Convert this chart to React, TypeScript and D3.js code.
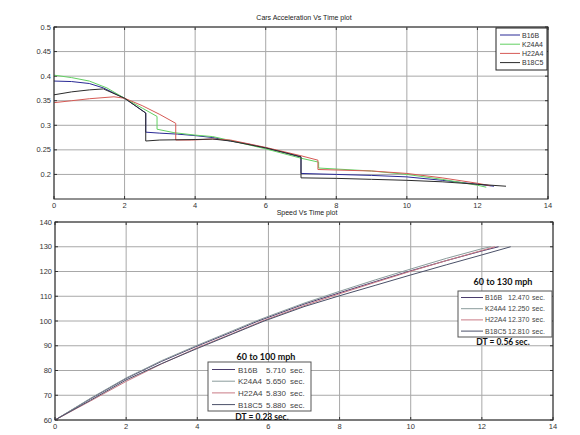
import React from "react";
import * as d3 from "d3";

type Pt = [number, number];

const carNames = ["B16B", "K24A4", "H22A4", "B18C5"];

// acceleration (g) vs time (s)
const accB16B: Pt[] = [
  [0, 0.39], [0.5, 0.389], [1, 0.385], [1.4, 0.376], [2, 0.355], [2.3, 0.34], [2.6, 0.325],
  [2.6, 0.286], [3, 0.284], [3.5, 0.282], [4, 0.279], [4.5, 0.275], [5, 0.268], [5.5, 0.262],
  [6, 0.254], [6.5, 0.245], [7, 0.235], [7, 0.202], [8, 0.2], [9, 0.198], [10, 0.195],
  [11, 0.188], [12, 0.18], [12.47, 0.176],
];
const accK24A4: Pt[] = [
  [0, 0.402], [0.5, 0.397], [1, 0.39], [1.5, 0.376], [2, 0.355], [2.5, 0.335], [2.92, 0.318],
  [2.92, 0.292], [3.4, 0.285], [4, 0.28], [4.5, 0.277], [5, 0.269], [6, 0.252], [7, 0.233],
  [7.5, 0.225], [7.5, 0.213], [8, 0.211], [9, 0.207], [10, 0.2], [11, 0.19], [12, 0.178],
  [12.25, 0.174],
];
const accH22A4: Pt[] = [
  [0, 0.346], [0.5, 0.35], [1, 0.354], [1.7, 0.358], [2, 0.355], [2.5, 0.34], [3, 0.322],
  [3.45, 0.304], [3.45, 0.27], [3.9, 0.27], [4.5, 0.272], [5, 0.27], [6, 0.255], [7, 0.238],
  [7.48, 0.229], [7.48, 0.21], [8, 0.209], [9, 0.207], [10, 0.202], [11, 0.193], [12, 0.182],
  [12.37, 0.177],
];
const accB18C5: Pt[] = [
  [0, 0.362], [0.5, 0.368], [1, 0.372], [1.4, 0.374], [2, 0.355], [2.3, 0.34], [2.6, 0.325],
  [2.6, 0.268], [3, 0.27], [4, 0.271], [4.5, 0.272], [5, 0.268], [6, 0.254], [7, 0.236],
  [7, 0.193], [8, 0.192], [9, 0.19], [10, 0.188], [11, 0.185], [12, 0.18], [12.81, 0.176],
];

// speed (mph) vs time (s)
const spdB16B: Pt[] = [
  [0, 60], [1, 68.6], [2, 76.8], [3, 83.7], [4, 89.9], [5, 95.7], [5.71, 100], [6, 101.5],
  [7, 106.8], [8, 111.4], [9, 115.9], [10, 120.3], [11, 124.4], [12, 128.3], [12.47, 130],
];
const spdK24A4: Pt[] = [
  [0, 60], [1, 68.8], [2, 77], [3, 84], [4, 90.2], [5, 96.1], [5.65, 100], [6, 101.9],
  [7, 107.2], [8, 112], [9, 116.6], [10, 121], [11, 125.3], [12, 129.2], [12.25, 130],
];
const spdH22A4: Pt[] = [
  [0, 60], [1, 67.7], [2, 75.6], [3, 82.7], [4, 89.2], [5, 95], [5.83, 100], [6, 100.9],
  [7, 106.2], [8, 111], [9, 115.6], [10, 120.1], [11, 124.4], [12, 128.5], [12.37, 130],
];
const spdB18C5: Pt[] = [
  [0, 60], [1, 68], [2, 76.2], [3, 82.8], [4, 88.9], [5, 94.8], [5.88, 100], [6, 100.6],
  [7, 105.8], [8, 110.2], [9, 114.4], [10, 118.6], [11, 122.7], [12, 126.7], [12.81, 130],
];

const t100 = ["5.710", "5.650", "5.830", "5.880"];
const t130 = ["12.470", "12.250", "12.370", "12.810"];

const accColors = ["#2a2a96", "#62d062", "#d65a55", "#2b2b2b"];
const spdColors = ["#4a3c6c", "#8a9c9c", "#c97a86", "#4a5068"];

const xTicks = [0, 2, 4, 6, 8, 10, 12, 14];
const accTicks = [0.2, 0.25, 0.3, 0.35, 0.4, 0.45, 0.5];
const spdTicks = [60, 70, 80, 90, 100, 110, 120, 130, 140];

const tickFont = "'Liberation Sans', Arial, sans-serif";
const boldFont = "Lato, 'Open Sans', sans-serif";

type PanelProps = {
  x0: number; x1: number; y0: number; y1: number;
  yDomain: [number, number];
  yTicks: number[];
  yFmt: (v: number) => string;
  series: Pt[][];
  colors: string[];
  title: string;
  titleY: number;
};

const Panel: React.FC<PanelProps> = ({ x0, x1, y0, y1, yDomain, yTicks, yFmt, series, colors, title, titleY }) => {
  const x = d3.scaleLinear().domain([0, 14]).range([x0, x1]);
  const y = d3.scaleLinear().domain(yDomain).range([y1, y0]);
  const line = d3.line<Pt>().x((d) => x(d[0])).y((d) => y(d[1]));
  return (
    <g>
      <rect x={x0} y={y0} width={x1 - x0} height={y1 - y0} fill="#fff" />
      {xTicks.map((t) => (
        <g key={"x" + t}>
          <line x1={x(t)} x2={x(t)} y1={y0} y2={y1} stroke="#a8a8a8" strokeWidth={1} />
          <line x1={x(t)} x2={x(t)} y1={y1} y2={y1 - 3} stroke="#333" />
          <line x1={x(t)} x2={x(t)} y1={y0} y2={y0 + 3} stroke="#333" />
          <text x={x(t)} y={y1 + 9} fontSize={7.5} fontFamily={tickFont} fill="#333" textAnchor="middle">{t}</text>
        </g>
      ))}
      {yTicks.map((v) => (
        <g key={"y" + v}>
          <line x1={x0} x2={x1} y1={y(v)} y2={y(v)} stroke="#a8a8a8" strokeWidth={1} />
          <line x1={x0} x2={x0 + 3} y1={y(v)} y2={y(v)} stroke="#333" />
          <line x1={x1} x2={x1 - 3} y1={y(v)} y2={y(v)} stroke="#333" />
          <text x={x0 - 3} y={y(v) + 2.5} fontSize={7.5} fontFamily={tickFont} fill="#333" textAnchor="end">{yFmt(v)}</text>
        </g>
      ))}
      {series.map((s, i) => (
        <path key={"s" + i} d={line(s) ?? ""} fill="none" stroke={colors[i]} strokeWidth={1} />
      ))}
      <rect x={x0} y={y0} width={x1 - x0} height={y1 - y0} fill="none" stroke="#222" strokeWidth={1} />
      <text x={(x0 + x1) / 2 + 3} y={titleY} fontSize={7} fontFamily={tickFont} fill="#222" textAnchor="middle">{title}</text>
    </g>
  );
};

export default function App() {
  const W = 580;
  const H = 435;
  return (
    <svg width={W} height={H} style={{ position: "absolute", left: 0, top: 0, background: "#fff" }}>
      <Panel
        x0={54} x1={548} y0={27} y1={199}
        yDomain={[0.15, 0.5]} yTicks={accTicks} yFmt={(v) => String(+v.toFixed(2))}
        series={[accB16B, accK24A4, accH22A4, accB18C5]} colors={accColors}
        title="Cars Acceleration Vs Time plot" titleY={20}
      />
      <Panel
        x0={55} x1={553} y0={222} y1={420}
        yDomain={[60, 140]} yTicks={spdTicks} yFmt={(v) => String(v)}
        series={[spdB16B, spdK24A4, spdH22A4, spdB18C5]} colors={spdColors}
        title="Speed Vs Time plot" titleY={215}
      />

      {/* top legend */}
      <rect x={496} y={28} width={51} height={42} fill="#fff" stroke="#222" />
      {carNames.map((n, i) => (
        <g key={"tl" + n}>
          <line x1={500} x2={520} y1={35 + i * 9.2} y2={35 + i * 9.2} stroke={accColors[i]} />
          <text x={522} y={37.5 + i * 9.2} fontSize={7} fontFamily={tickFont} fill="#333">{n}</text>
        </g>
      ))}

      {/* 60 to 100 legend */}
      <text x={266} y={360} fontSize={9} fontWeight="bold" fontFamily={boldFont} fill="#111" textAnchor="middle">60 to 100 mph</text>
      <rect x={208} y={362} width={103} height={49} fill="#fff" stroke="#555" />
      {carNames.map((n, i) => (
        <g key={"bl" + n}>
          <line x1={212} x2={235} y1={369.5 + i * 11.7} y2={369.5 + i * 11.7} stroke={spdColors[i]} />
          <text x={238} y={372.5 + i * 11.7} fontSize={8} fontFamily={tickFont} fill="#444">{n}</text>
          <text x={266} y={372.5 + i * 11.7} fontSize={8} fontFamily={tickFont} fill="#444">{t100[i]}</text>
          <text x={290} y={372.5 + i * 11.7} fontSize={8} fontFamily={tickFont} fill="#444">sec.</text>
        </g>
      ))}
      <text x={262} y={420} fontSize={8.5} fontWeight="bold" fontFamily={boldFont} fill="#111" textAnchor="middle">DT = 0.23 sec.</text>

      {/* 60 to 130 legend */}
      <text x={503} y={285} fontSize={9} fontWeight="bold" fontFamily={boldFont} fill="#111" textAnchor="middle">60 to 130 mph</text>
      <rect x={458} y={291} width={94} height={46} fill="#fff" stroke="#555" />
      {carNames.map((n, i) => (
        <g key={"br" + n}>
          <line x1={461} x2={483} y1={297.5 + i * 11.2} y2={297.5 + i * 11.2} stroke={spdColors[i]} />
          <text x={485} y={300 + i * 11.2} fontSize={7} fontFamily={tickFont} fill="#444">{n}</text>
          <text x={508} y={300 + i * 11.2} fontSize={7} fontFamily={tickFont} fill="#444">{t130[i]}</text>
          <text x={532} y={300 + i * 11.2} fontSize={7} fontFamily={tickFont} fill="#444">sec.</text>
        </g>
      ))}
      <text x={503} y={345} fontSize={8.5} fontWeight="bold" fontFamily={boldFont} fill="#111" textAnchor="middle">DT = 0.56 sec.</text>
    </svg>
  );
}
